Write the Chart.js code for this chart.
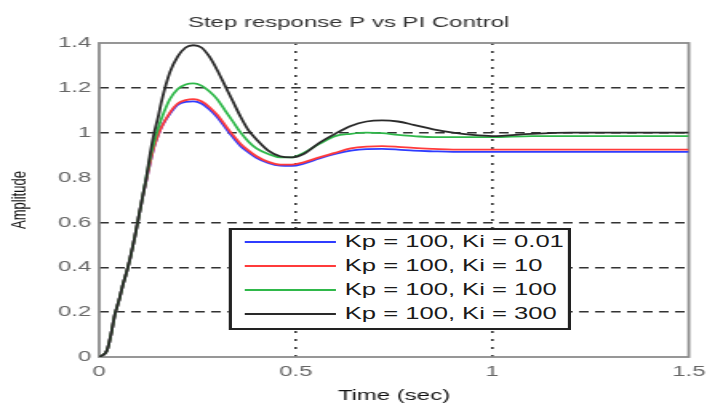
<!DOCTYPE html>
<html>
<head>
<meta charset="utf-8">
<title>Step response P vs PI Control</title>
<script src="https://cdn.jsdelivr.net/npm/chart.js"></script>
<style>
    html, body { margin: 0; padding: 0; background: #fff; overflow: hidden; }
    /* the original figure is stretched sideways, so the whole stage is too */
    #stage { position: absolute; left: 0; top: 0; width: 447px; height: 403px;
             transform: scaleX(1.5996); transform-origin: 0 0; }
    #legend { position: absolute; left: 142.5px; top: 228px; width: 214.5px; height: 102px;
              box-sizing: border-box; border: 2px solid #222; background: #fff;
              font: 16px 'Liberation Sans', Arial, sans-serif; color: #1a1a1a; }
    #legend .row { position: absolute; left: 0; right: 0; height: 24px; line-height: 24px; }
    #legend .swatch { position: absolute; left: 8.5px; top: 11px; width: 57px; height: 2.4px; }
    #legend .txt { position: absolute; left: 71px; top: 0; white-space: nowrap; }
</style>
</head>
<body>
<div id="stage">
    <canvas id="stepChart" width="447" height="403"></canvas>
    <div id="legend"></div>
</div>
<script>
// Dados (tempo em segundos, amplitude)
const time = [0, 0.02, 0.03, 0.04, 0.05, 0.06, 0.07, 0.08, 0.09, 0.10, 0.11, 0.12, 0.13, 0.14, 0.15, 0.16,
              0.18, 0.20, 0.22, 0.24, 0.26, 0.28, 0.30, 0.32, 0.34, 0.36, 0.38, 0.40, 0.43, 0.46, 0.49, 0.52,
              0.56, 0.60, 0.64, 0.68, 0.72, 0.76, 0.80, 0.85, 0.90, 0.95, 1.0, 1.1, 1.2, 1.3, 1.4, 1.5];

const ki001 = [0, 0.03, 0.10, 0.19, 0.25, 0.32, 0.38, 0.45, 0.53, 0.62, 0.71, 0.79, 0.87, 0.94, 0.99, 1.03,
               1.085, 1.125, 1.138, 1.14, 1.13, 1.105, 1.07, 1.025, 0.98, 0.94, 0.912, 0.888, 0.865, 0.853, 0.852, 0.862,
               0.885, 0.905, 0.92, 0.927, 0.928, 0.925, 0.92, 0.917, 0.915, 0.915, 0.915, 0.915, 0.915, 0.915, 0.915, 0.915];

const ki10 = [0, 0.03, 0.10, 0.19, 0.25, 0.32, 0.38, 0.45, 0.53, 0.62, 0.71, 0.79, 0.87, 0.94, 0.99, 1.03,
              1.09, 1.13, 1.145, 1.15, 1.14, 1.115, 1.08, 1.035, 0.99, 0.95, 0.92, 0.895, 0.87, 0.858, 0.858, 0.868,
              0.89, 0.91, 0.93, 0.938, 0.94, 0.937, 0.932, 0.928, 0.925, 0.925, 0.925, 0.925, 0.925, 0.925, 0.925, 0.925];

const ki100 = [0, 0.03, 0.10, 0.19, 0.25, 0.32, 0.38, 0.45, 0.53, 0.62, 0.71, 0.80, 0.89, 0.96, 1.02, 1.07,
               1.15, 1.195, 1.215, 1.22, 1.21, 1.185, 1.15, 1.10, 1.05, 1.0, 0.96, 0.93, 0.905, 0.89, 0.89, 0.91,
               0.95, 0.985, 0.995, 1.0, 0.998, 0.99, 0.985, 0.98, 0.98, 0.98, 0.98, 0.985, 0.985, 0.985, 0.985, 0.985];

const ki300 = [0, 0.03, 0.10, 0.19, 0.25, 0.32, 0.38, 0.45, 0.53, 0.62, 0.71, 0.80, 0.91, 1.0, 1.07, 1.15,
               1.27, 1.34, 1.38, 1.39, 1.38, 1.34, 1.28, 1.21, 1.14, 1.07, 1.01, 0.97, 0.92, 0.895, 0.89, 0.905,
               0.955, 0.995, 1.03, 1.05, 1.055, 1.05, 1.035, 1.015, 1.0, 0.99, 0.985, 0.995, 1.0, 1.0, 1.0, 1.0];

const seriesLabels = ['Kp = 100, Ki = 0.01', 'Kp = 100, Ki = 10', 'Kp = 100, Ki = 100', 'Kp = 100, Ki = 300'];
const seriesValues = [ki001, ki10, ki100, ki300];
const seriesColors = ['#2f3cff', '#ff3b3b', '#2fb84a', '#2a2a2a'];

const xTicks = [0, 0.5, 1, 1.5];
const yTicks = [0, 0.2, 0.4, 0.6, 0.8, 1, 1.2, 1.4];

const chartTitle = 'Step response P vs PI Control';
const xTitle = 'Time (sec)';
const yTitle = 'Amplitude';

// linhas de grade visíveis no original (0.8 não aparece)
const xGridAt = [0.5, 1];
const yGridAt = [0.2, 0.4, 0.6, 1, 1.2];

Chart.defaults.font.family = "'Liberation Sans', Arial, sans-serif";

const framePlugin = {
    id: 'frame',
    beforeDatasetsDraw(chart) {
        const { ctx, chartArea: a } = chart;
        ctx.save();
        ctx.strokeStyle = '#8c8c8c';
        ctx.lineWidth = 1.8;
        ctx.strokeRect(a.left, a.top, a.right - a.left, a.bottom - a.top);
        ctx.restore();
    }
};

const fmt = v => String(+Number(v).toFixed(1));

new Chart(document.getElementById('stepChart'), {
    type: 'line',
    data: {
        datasets: seriesValues.map((vals, i) => ({
            label: seriesLabels[i],
            data: vals.map((y, k) => ({ x: time[k], y: y })),
            borderColor: seriesColors[i],
            borderWidth: 1.8,
            pointRadius: 0,
            fill: false,
            cubicInterpolationMode: 'monotone',
            order: seriesValues.length - i   // preto desenhado por cima
        }))
    },
    options: {
        responsive: false,
        animation: false,
        layout: { padding: { left: 0, right: 11.3, top: 0, bottom: 0 } },
        plugins: {
            legend: { display: false },
            tooltip: { enabled: false },
            title: {
                display: true,
                text: chartTitle,
                color: '#333',
                font: { size: 15, weight: 'normal', lineHeight: 1.2 },
                padding: { top: 14, bottom: 11 }
            }
        },
        scales: {
            x: {
                type: 'linear',
                min: 0,
                max: 1.5,
                afterBuildTicks: s => { s.ticks = xTicks.map(v => ({ value: v })); },
                afterFit: s => { s.height = 46; },
                ticks: { color: '#666', font: { size: 15 }, padding: 6, maxRotation: 0, callback: fmt },
                grid: {
                    color: c => (c.tick && xGridAt.includes(c.tick.value)) ? '#333' : 'rgba(0,0,0,0)',
                    lineWidth: 1.6,
                    drawTicks: false
                },
                border: { display: false, dash: [2, 6] },
                title: { display: true, text: xTitle, color: '#111', font: { size: 15, lineHeight: 1 }, padding: 0 }
            },
            y: {
                min: 0,
                max: 1.4,
                afterBuildTicks: s => { s.ticks = yTicks.map(v => ({ value: v })); },
                afterFit: s => { s.width = 62; },
                ticks: { color: '#666', font: { size: 15 }, padding: 5, callback: fmt },
                grid: {
                    color: c => (c.tick && yGridAt.some(g => Math.abs(g - c.tick.value) < 1e-6)) ? '#333' : 'rgba(0,0,0,0)',
                    lineWidth: 1.4,
                    drawTicks: false
                },
                border: { display: false, dash: [6, 4] },
                title: { display: true, text: yTitle, color: '#111', font: { size: 13, lineHeight: 1.2 }, padding: { top: 5, bottom: 0 } }
            }
        }
    },
    plugins: [framePlugin]
});

// legenda em caixa dentro da área do gráfico
const legendEl = document.getElementById('legend');
seriesLabels.forEach((label, i) => {
    const row = document.createElement('div');
    row.className = 'row';
    row.style.top = (i * 24) + 'px';
    row.innerHTML = '<span class="swatch" style="background:' + seriesColors[i] + '"></span>' +
                    '<span class="txt">' + label + '</span>';
    legendEl.appendChild(row);
});
</script>
</body>
</html>
